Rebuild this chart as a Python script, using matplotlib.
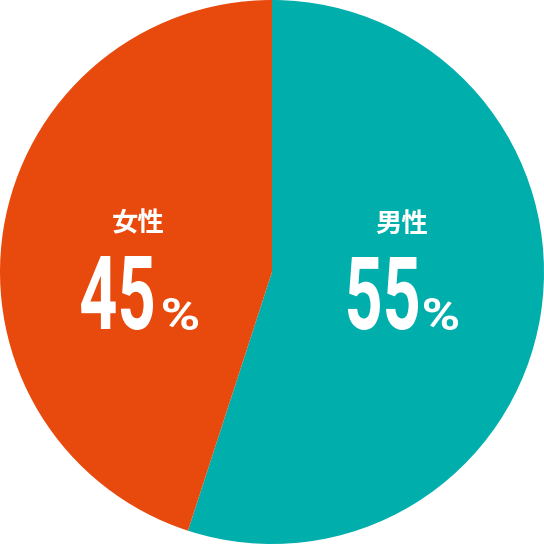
import matplotlib
matplotlib.use("Agg")
import matplotlib.pyplot as plt
from matplotlib.textpath import TextPath
from matplotlib.patches import PathPatch
from matplotlib.font_manager import FontProperties
from matplotlib.transforms import Affine2D

plt.rcParams['font.family'] = ['Noto Sans CJK JP', 'DejaVu Sans']

# data
labels = ['男性', '女性']
values = [55, 45]
colors = ['#00AEAB', '#E8490C']

W = 544

fig = plt.figure(figsize=(5.44, 5.44), dpi=100)
ax = fig.add_axes([0, 0, 1, 1])

ax.pie(values, colors=colors, startangle=90, counterclock=False,
       center=(W / 2, W / 2), radius=W / 2, frame=True,
       wedgeprops=dict(linewidth=0))
ax.set_xlim(0, W)
ax.set_ylim(0, W)
ax.set_aspect('equal')
ax.axis('off')

num_font = FontProperties(family='Roboto', weight='bold')


def fit_text(s, x0, x1, ytop, ybot):
    # squeeze a text path into a box given in pixel coords (y from top)
    tp = TextPath((0, 0), s, size=100, prop=num_font)
    ext = tp.get_extents()
    sx = (x1 - x0) / ext.width
    sy = (ybot - ytop) / ext.height
    tr = Affine2D().translate(-ext.x0, -ext.y0).scale(sx, sy).translate(x0, W - ybot)
    ax.add_patch(PathPatch(tr.transform_path(tp), fc='white', ec='none'))


# label positions (pixel boxes)
fit_text(str(values[0]), 348, 418, 257, 330)
fit_text('%', 424, 458, 298, 330)
fit_text(str(values[1]), 81, 153, 256, 330)
fit_text('%', 163, 198, 298, 330)

ax.text(402, W - 224, labels[0], color='white', fontsize=19,
        fontweight='bold', ha='center', va='center')
ax.text(138, W - 224, labels[1], color='white', fontsize=19,
        fontweight='bold', ha='center', va='center')

fig.savefig('out.png', dpi=100, facecolor='white')
